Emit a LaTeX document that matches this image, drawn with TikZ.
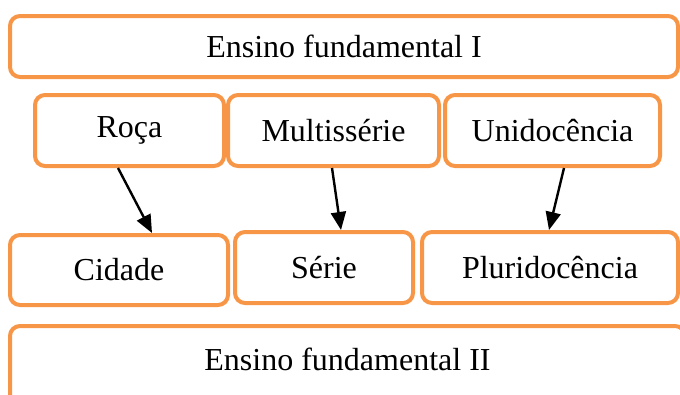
\documentclass[tikz,border=0pt]{standalone}
\usepackage{fontspec}
\setmainfont{Liberation Serif}
\usetikzlibrary{arrows.meta}
\definecolor{boxorange}{HTML}{F79646}

\begin{document}
\begin{tikzpicture}[x=1pt, y=-1pt,
    box/.style={draw=boxorange, line width=4pt, rounded corners=10pt,
      inner sep=0pt, font=\fontsize{32}{38}\selectfont},
    link/.style={-{Triangle[length=18pt,width=15pt]}, line width=2.4pt}]
    \useasboundingbox (0,0) rectangle (680,394);
    \node [box, minimum width=668pt, minimum height=61pt] (1) at (344,46.5) {Ensino fundamental I};
    \node [box, minimum width=189pt, minimum height=71pt] (2) at (129.5,130.5) {Roça};
    \node [box, minimum width=211pt, minimum height=71pt] (3) at (333.5,130.5) {Multissérie};
    \node [box, minimum width=215pt, minimum height=71pt] (4) at (552.5,130.5) {Unidocência};
    \node [box, minimum width=218pt, minimum height=70pt] (5) at (119,270) {Cidade};
    \node [box, minimum width=178pt, minimum height=71pt] (6) at (324,267.5) {Série};
    \node [box, minimum width=256pt, minimum height=71pt] (7) at (550,267.5) {Pluridocência};
    \node [box, minimum width=675pt, minimum height=80pt, text depth=0pt] (8) at (347.5,366) {};
    \node [font=\fontsize{32}{38}\selectfont] (9) at (347.5,359) {Ensino fundamental II};
    \draw [link] ([xshift=-11.5pt]2.south) to ([xshift=33pt]5.north);
    \draw [link] ([xshift=-1.5pt]3.south) to ([xshift=17pt]6.north);
    \draw [link] ([xshift=11.5pt]4.south) to ([xshift=-1pt]7.north);
  \end{tikzpicture}
\end{document}
